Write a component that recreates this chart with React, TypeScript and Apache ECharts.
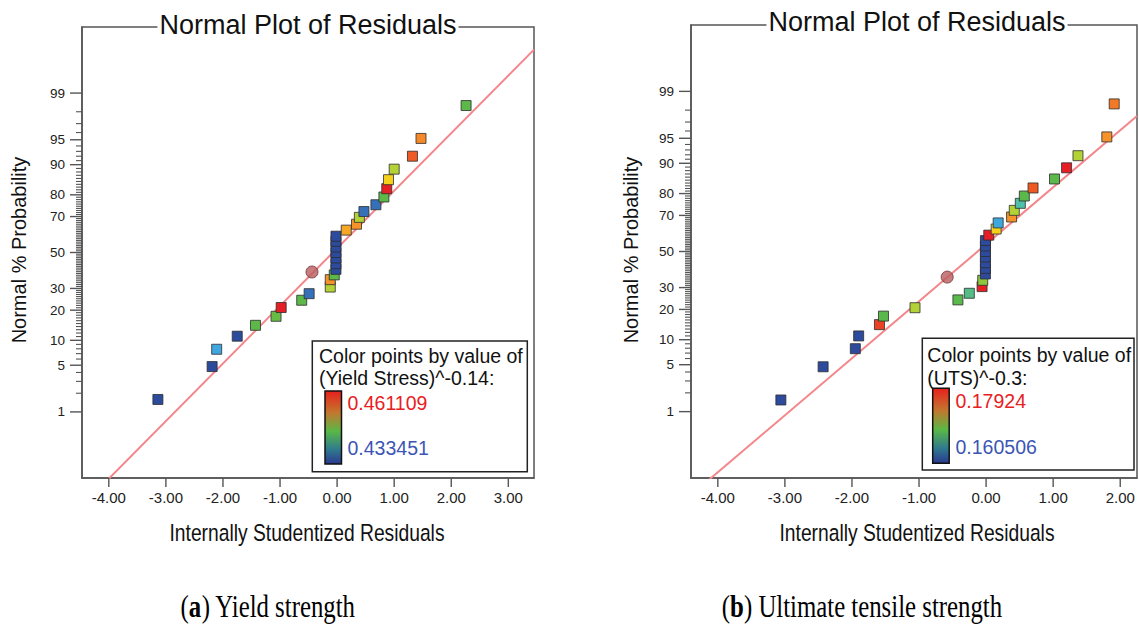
import React, { useEffect, useRef } from 'react';
import * as echarts from 'echarts';

// ---------- data: (a) Yield strength ----------
const A_RESID = [-3.14, -2.19, -2.11, -1.75, -1.43, -1.07, -0.98, -0.62, -0.49, -0.12, -0.12, -0.05,
  -0.02, -0.02, -0.02, -0.02, -0.02, -0.02, -0.02,
  0.16, 0.34, 0.39, 0.47, 0.68, 0.82, 0.87, 0.90, 1.00, 1.32, 1.47, 2.26];
const A_PCT = [1.6, 4.8, 7.9, 11.1, 14.4, 17.6, 21.1, 24.3, 27.4, 30.7, 34.6, 37.2,
  40.3, 43.5, 46.8, 50.0, 53.2, 56.5, 59.4,
  62.8, 66.0, 69.6, 72.5, 75.7, 79.1, 82.4, 85.6, 88.8, 92.0, 95.2, 98.4];
const A_VALUE = [0.4335, 0.4335, 0.4396, 0.4335, 0.4457, 0.4462, 0.4611, 0.4457, 0.4365, 0.4488, 0.4550, 0.4457,
  0.4335, 0.4335, 0.4335, 0.4335, 0.4335, 0.4335, 0.4335,
  0.4540, 0.4550, 0.4488, 0.4365, 0.4365, 0.4457, 0.4611, 0.4519, 0.4488, 0.4580, 0.4555, 0.4457];
const A_HILITE = [-0.44, 38.8];
const A_FIT_X = [-4.0, 3.45];
const A_FIT_Z = [-3.30, 2.96];
const A_MIN = 0.433451;
const A_MAX = 0.461109;
const A_X_TICKS = [-4, -3, -2, -1, 0, 1, 2, 3];
const A_X_RANGE = [-4.47, 3.45];

// ---------- data: (b) Ultimate tensile strength ----------
const B_RESID = [-3.06, -2.43, -1.95, -1.90, -1.59, -1.53, -1.06, -0.42, -0.25, -0.06, -0.05,
  -0.01, -0.01, -0.01, -0.01, -0.01, -0.01, -0.01,
  0.04, 0.15, 0.18, 0.38, 0.42, 0.51, 0.57, 0.70, 1.02, 1.20, 1.37, 1.80, 1.91];
const B_PCT = [1.55, 4.7, 7.9, 11.0, 14.4, 17.4, 20.7, 24.1, 27.2, 30.5, 33.8,
  37.2, 40.3, 43.5, 46.8, 50.0, 53.2, 56.3,
  59.4, 62.8, 66.1, 69.2, 72.5, 75.8, 79.0, 82.2, 85.4, 88.8, 91.8, 95.2, 98.4];
const B_VALUE = [0.1605, 0.1605, 0.1605, 0.1605, 0.1780, 0.1688, 0.1709, 0.1688, 0.1675, 0.1792, 0.1700,
  0.1605, 0.1605, 0.1605, 0.1605, 0.1605, 0.1605, 0.1605,
  0.1792, 0.1730, 0.1647, 0.1751, 0.1709, 0.1668, 0.1688, 0.1772, 0.1688, 0.1792, 0.1709, 0.1751, 0.1760];
const B_HILITE = [-0.58, 35.5];
const B_FIT_X = [-4.134, 2.25];
const B_FIT_Z = [-3.318, 1.968];
const B_MIN = 0.160506;
const B_MAX = 0.17924;
const B_X_TICKS = [-4, -3, -2, -1, 0, 1, 2];
const B_X_RANGE = [-4.40, 2.25];

// ---------- shared axis values ----------
const Y_LABEL_PCT = [1, 5, 10, 20, 30, 50, 70, 80, 90, 95, 99];
const Y_MINOR_PCT = Array.from({ length: 99 }, (_, i) => i + 1);
const Y_RANGE_PCT = [0.05, 99.95];
const PALETTE = ['#2d4a9c', '#3670b8', '#3fa6df', '#4fbfab', '#5bb848', '#b3d236', '#f5d11c', '#f5932a', '#ee5a24', '#e61e26'];

function probit(p: number): number {
  const a = [-3.969683028665376e1, 2.209460984245205e2, -2.759285104469687e2, 1.38357751867269e2, -3.066479806614716e1, 2.506628277459239];
  const b = [-5.447609879822406e1, 1.615858368580409e2, -1.556989798598866e2, 6.680131188771972e1, -1.328068155288572e1];
  const c = [-7.784894002430293e-3, -3.223964580411365e-1, -2.400758277161838, -2.549732539343734, 4.374664141464968, 2.938163982698783];
  const d = [7.784695709041462e-3, 3.224671290700398e-1, 2.445134137142996, 3.754408661907416];
  const plow = 0.02425;
  if (p < plow) {
    const q = Math.sqrt(-2 * Math.log(p));
    return (((((c[0] * q + c[1]) * q + c[2]) * q + c[3]) * q + c[4]) * q + c[5]) / ((((d[0] * q + d[1]) * q + d[2]) * q + d[3]) * q + 1);
  }
  if (p <= 1 - plow) {
    const q = p - 0.5, r = q * q;
    return (((((a[0] * r + a[1]) * r + a[2]) * r + a[3]) * r + a[4]) * r + a[5]) * q / (((((b[0] * r + b[1]) * r + b[2]) * r + b[3]) * r + b[4]) * r + 1);
  }
  const q = Math.sqrt(-2 * Math.log(1 - p));
  return -(((((c[0] * q + c[1]) * q + c[2]) * q + c[3]) * q + c[4]) * q + c[5]) / ((((d[0] * q + d[1]) * q + d[2]) * q + d[3]) * q + 1);
}
const pz = (pct: number) => probit(pct / 100);

const SANS = "'Liberation Sans', Arial, Helvetica, sans-serif";
const SERIF = "'Liberation Serif', 'Times New Roman', serif";
const AXIS_COLOR = '#555';

const GRID_BOXES = [
  { left: 82, top: 27, width: 452, height: 451 },
  { left: 691, top: 25, width: 446, height: 453 },
];

export default function App() {
  const ref = useRef<HTMLDivElement>(null);
  useEffect(() => {
    const chart = echarts.init(ref.current!, null, { renderer: 'svg' });
    const majorZ = Y_LABEL_PCT.map(pz);
    const yMin = pz(Y_RANGE_PCT[0]);
    const yMax = pz(Y_RANGE_PCT[1]);

    const grids = GRID_BOXES.map((g) => ({ ...g, show: true, borderColor: AXIS_COLOR, borderWidth: 1.5, backgroundColor: 'transparent' }));

    const xAxisFor = (gi: number, range: number[], ticks: number[]) => ({
      type: 'value', gridIndex: gi, min: range[0], max: range[1], position: 'bottom',
      axisLine: { show: true, onZero: false, lineStyle: { color: AXIS_COLOR, width: 1.5 } },
      axisTick: { show: false },
      axisLabel: { show: true, customValues: ticks, formatter: (v: number) => v.toFixed(2), fontSize: 15, fontFamily: SANS, color: '#222', margin: 12 },
      splitLine: { show: false },
    });
    const yAxisFor = (gi: number) => ({
      type: 'value', gridIndex: gi, min: yMin, max: yMax, position: 'left',
      axisLine: { show: true, onZero: false, lineStyle: { color: AXIS_COLOR, width: 1.5 } },
      axisTick: { show: false },
      axisLabel: {
        show: true, customValues: majorZ, fontSize: 13.5, fontFamily: SANS, color: '#222', margin: 17,
        formatter: (v: number) => {
          const i = majorZ.findIndex((z) => Math.abs(z - v) < 1e-6);
          return i >= 0 ? String(Y_LABEL_PCT[i]) : '';
        },
      },
      splitLine: { show: false },
    });

    const panelSeries = (xi: number, resid: number[], pct: number[], vals: number[], hl: number[], fx: number[], fz: number[]) => [
      {
        type: 'line', xAxisIndex: xi, yAxisIndex: xi, data: fx.map((x, i) => [x, fz[i]]),
        symbol: 'none', lineStyle: { color: '#f4858a', width: 2 }, z: 2, silent: true, clip: true,
      },
      {
        type: 'scatter', xAxisIndex: xi, yAxisIndex: xi, symbol: 'rect', symbolSize: 10,
        data: resid.map((x, i) => [x, pz(pct[i]), vals[i]]),
        itemStyle: { borderColor: 'rgba(45,45,45,0.8)', borderWidth: 1, opacity: 1 }, z: 3,
      },
      {
        type: 'scatter', xAxisIndex: xi, yAxisIndex: xi, symbol: 'circle', symbolSize: 12,
        data: [[hl[0], pz(hl[1])]],
        itemStyle: { color: '#b95c5c', borderColor: '#6e3434', borderWidth: 1 }, z: 4,
      },
    ];

    const grad = () => new echarts.graphic.LinearGradient(0, 0, 0, 1, [
      { offset: 0, color: '#e8201e' },
      { offset: 0.3, color: '#c2782e' },
      { offset: 0.55, color: '#5ab846' },
      { offset: 0.8, color: '#2f7a8e' },
      { offset: 1, color: '#2b3990' },
    ]);

    const legend = (bx: number, by: number, bw: number, bh: number, tx: number, t1y: number, t2y: number, line2: string,
      barX: number, barY: number, barH: number, lx: number, hiY: number, loY: number, hi: string, lo: string) => [
      { type: 'rect', z: 100, shape: { x: bx, y: by, width: bw, height: bh }, style: { fill: '#fff', stroke: '#222', lineWidth: 1.5 } },
      { type: 'text', z: 101, x: tx, y: t1y, style: { text: 'Color points by value of', font: `19.5px ${SANS}`, fill: '#111', verticalAlign: 'middle' } },
      { type: 'text', z: 101, x: tx, y: t2y, style: { text: line2, font: `19.5px ${SANS}`, fill: '#111', verticalAlign: 'middle' } },
      { type: 'rect', z: 101, shape: { x: barX, y: barY, width: 16.5, height: barH }, style: { fill: grad(), stroke: '#111', lineWidth: 1.5 } },
      { type: 'text', z: 101, x: lx, y: hiY, style: { text: hi, font: `19.5px ${SANS}`, fill: '#e8201e', verticalAlign: 'middle' } },
      { type: 'text', z: 101, x: lx, y: loY, style: { text: lo, font: `19.5px ${SANS}`, fill: '#3b55b5', verticalAlign: 'middle' } },
    ];

    const titleText = (cx: number, cy: number) => ({
      type: 'text', z: 100, x: cx, y: cy,
      style: { text: 'Normal Plot of Residuals', font: `27px ${SANS}`, fill: '#111', align: 'center', verticalAlign: 'middle', backgroundColor: '#fff', padding: [0, 2] },
    });
    const yName = (cx: number, cy: number) => ({
      type: 'text', z: 100, x: cx, y: cy, rotation: Math.PI / 2,
      style: { text: 'Normal % Probability', font: `20px ${SANS}`, fill: '#111', align: 'center', verticalAlign: 'middle' },
    });
    const xName = (cx: number, cy: number) => ({
      type: 'text', z: 100, x: cx, y: cy, scaleX: 0.82,
      style: { text: 'Internally Studentized Residuals', font: `23.5px ${SANS}`, fill: '#111', align: 'center', verticalAlign: 'middle' },
    });
    const caption = (cx: number, cy: number, letter: string, rest: string) => ({
      type: 'text', z: 100, x: cx, y: cy, scaleX: 0.8,
      style: {
        text: `{n|(}{b|${letter}}{n|) ${rest}}`, align: 'center', verticalAlign: 'middle',
        rich: {
          n: { fontFamily: SERIF, fontSize: 31, fill: '#000' },
          b: { fontFamily: SERIF, fontSize: 31, fontWeight: 'bold', fill: '#000' },
        },
      },
    });

    const baseGraphic: any[] = [
      titleText(308, 25),
      titleText(917, 22),
      yName(19, 250),
      yName(631, 250),
      xName(307, 533),
      xName(917, 533),
      ...legend(312.3, 341, 215, 130.7, 319, 356, 378.3, '(Yield Stress)^-0.14:', 325, 391, 73, 347.5, 402.5, 448, '0.461109', '0.433451'),
      ...legend(922.3, 338.3, 211.7, 131.7, 927.3, 355, 377.7, '(UTS)^-0.3:', 932.7, 388.3, 75, 955.5, 401, 446.7, '0.17924', '0.160506'),
      caption(268, 607, 'a', 'Yield strength'),
      caption(862, 607, 'b', 'Ultimate tensile strength'),
    ];

    const buildOption = (extraGraphic: any[]) => ({
      animation: false,
      backgroundColor: '#fff',
      grid: grids,
      xAxis: [xAxisFor(0, A_X_RANGE, A_X_TICKS), xAxisFor(1, B_X_RANGE, B_X_TICKS)],
      yAxis: [yAxisFor(0), yAxisFor(1)],
      visualMap: [
        { type: 'continuous', show: false, seriesIndex: 1, dimension: 2, min: A_MIN, max: A_MAX, inRange: { color: PALETTE } },
        { type: 'continuous', show: false, seriesIndex: 4, dimension: 2, min: B_MIN, max: B_MAX, inRange: { color: PALETTE } },
      ],
      series: [
        ...panelSeries(0, A_RESID, A_PCT, A_VALUE, A_HILITE, A_FIT_X, A_FIT_Z),
        ...panelSeries(1, B_RESID, B_PCT, B_VALUE, B_HILITE, B_FIT_X, B_FIT_Z),
      ],
      graphic: { elements: [...baseGraphic, ...extraGraphic] },
    });

    chart.setOption(buildOption([]) as any);

    // tick marks: positions come from the axes' scales (convertToPixel), drawn as thin filled rects
    const panels = [
      { gi: 0, xRange: A_X_RANGE, xTicks: A_X_TICKS },
      { gi: 1, xRange: B_X_RANGE, xTicks: B_X_TICKS },
    ];
    const toPixel = (gi: number, x: number, y: number, xRange: number[]): number[] => {
      let pt: any = null;
      try {
        pt = chart.convertToPixel({ xAxisIndex: gi, yAxisIndex: gi } as any, [x, y]);
      } catch (e) {
        pt = null;
      }
      if (pt && isFinite(pt[0]) && isFinite(pt[1])) return pt as number[];
      const g = GRID_BOXES[gi];
      return [
        g.left + ((x - xRange[0]) / (xRange[1] - xRange[0])) * g.width,
        g.top + g.height - ((y - yMin) / (yMax - yMin)) * g.height,
      ];
    };
    const ticks: any[] = [];
    panels.forEach(({ gi, xRange, xTicks }) => {
      Y_MINOR_PCT.forEach((p) => {
        const pt = toPixel(gi, xRange[0], pz(p), xRange);
        const major = Y_LABEL_PCT.includes(p);
        const len = major ? 12 : 6;
        const th = major ? 1.4 : 1.1;
        ticks.push({
          type: 'rect', z: 150, silent: true,
          shape: { x: pt[0] - len, y: pt[1] - th / 2, width: len, height: th },
          style: { fill: AXIS_COLOR },
        });
      });
      xTicks.forEach((t) => {
        const pt = toPixel(gi, t, yMin, xRange);
        ticks.push({
          type: 'rect', z: 150, silent: true,
          shape: { x: pt[0] - 0.7, y: pt[1], width: 1.4, height: 9 },
          style: { fill: AXIS_COLOR },
        });
      });
    });

    chart.setOption(buildOption(ticks) as any, true);
    return () => chart.dispose();
  }, []);
  return <div ref={ref} style={{ position: 'absolute', left: 0, top: 0, width: 1139, height: 625 }} />;
}
